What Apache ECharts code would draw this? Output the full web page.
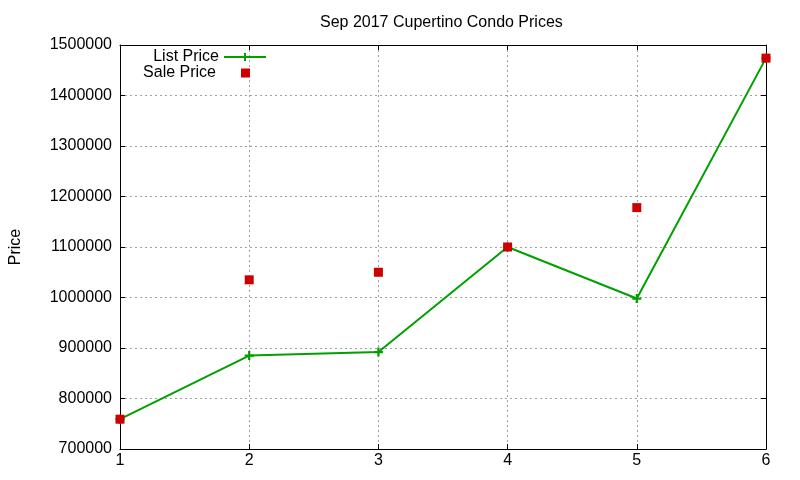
<!DOCTYPE html>
<html>
<head>
<meta charset="utf-8">
<script src="https://cdn.jsdelivr.net/npm/echarts@6/dist/echarts.min.js"></script>
<style>
  html, body { margin: 0; padding: 0; background: #fff; }
  #chart { width: 800px; height: 480px; }
</style>
</head>
<body>
<div id="chart"></div>
<script>
// data
var units = [1, 2, 3, 4, 5, 6];
var listPrice = [759000, 885000, 892000, 1100000, 998000, 1474000];
var salePrice = [759000, 1035000, 1050000, 1100000, 1178000, 1474000];
var yTicks = { min: 700000, max: 1500000, step: 100000 };

var font = 'Liberation Sans, Arial, sans-serif';
var green = '#00a000';
var red = '#cc0000';
// '+' marker like gnuplot
var plusMark = 'path://M3,0H5V3H8V5H5V8H3V5H0V3H3Z';

function pairs(xs, ys) {
    return xs.map(function (x, i) { return [x, ys[i]]; });
}

var chart = echarts.init(document.getElementById('chart'));

// axes: bottom/left carry labels, top/right are mirrored tick borders
var xBase = {
    type: 'value', min: 1, max: 6, interval: 1,
    axisLine: { show: true, onZero: false, lineStyle: { color: '#000', width: 1 } },
    axisTick: { show: true, inside: true, length: 5, lineStyle: { color: '#000' } }
};
var yBase = {
    type: 'value', min: yTicks.min, max: yTicks.max, interval: yTicks.step,
    axisLine: { show: true, onZero: false, lineStyle: { color: '#000', width: 1 } },
    axisTick: { show: true, inside: true, length: 5, lineStyle: { color: '#000' } }
};

var option = {
    animation: false,
    backgroundColor: '#fff',
    textStyle: { fontFamily: font },
    title: {
        text: 'Sep 2017 Cupertino Condo Prices',
        left: 315,
        top: 10,
        textStyle: { fontFamily: font, fontSize: 16, fontWeight: 'normal', color: '#000' }
    },
    legend: [
        {
            data: ['List Price'],
            orient: 'vertical',
            align: 'right',
            right: 533,
            top: 49,
            padding: 0,
            itemWidth: 42,
            itemHeight: 10,
            textStyle: { fontFamily: font, fontSize: 16, color: '#000' }
        },
        {
            data: ['Sale Price'],
            orient: 'vertical',
            align: 'right',
            right: 550,
            top: 65,
            padding: 0,
            itemWidth: 9,
            itemHeight: 9,
            textStyle: { fontFamily: font, fontSize: 16, color: '#000', padding: [0, 20, 0, 0] }
        }
    ],
    grid: { left: 114, right: 34, top: 45, bottom: 31 },
    xAxis: [
        Object.assign({}, xBase, {
            position: 'bottom',
            axisLabel: { margin: 4, color: '#000', fontFamily: font, fontSize: 16 },
            splitLine: { show: true, lineStyle: { color: '#a0a0a0', type: [2, 3], width: 1 } }
        }),
        Object.assign({}, xBase, {
            position: 'top',
            axisLabel: { show: false },
            splitLine: { show: false }
        })
    ],
    yAxis: [
        Object.assign({}, yBase, {
            position: 'left',
            name: 'Price',
            nameLocation: 'middle',
            nameRotate: 90,
            nameGap: 96,
            nameTextStyle: { fontFamily: font, fontSize: 16, color: '#000' },
            axisLabel: {
                margin: 8, color: '#000', fontFamily: font, fontSize: 16,
                formatter: function (v) { return String(v); }
            },
            splitLine: { show: true, lineStyle: { color: '#a0a0a0', type: [2, 3], width: 1 } }
        }),
        Object.assign({}, yBase, {
            position: 'right',
            axisLabel: { show: false },
            splitLine: { show: false }
        })
    ],
    series: [
        {
            name: 'List Price',
            type: 'line',
            data: pairs(units, listPrice),
            symbol: plusMark,
            symbolSize: 9,
            showAllSymbol: true,
            lineStyle: { color: green, width: 2 },
            itemStyle: { color: green },
            clip: false
        },
        {
            name: 'Sale Price',
            type: 'scatter',
            data: pairs(units, salePrice),
            symbol: 'rect',
            symbolSize: 9,
            itemStyle: { color: red, opacity: 1 },
            clip: false,
            z: 3
        }
    ]
};

chart.setOption(option);
</script>
</body>
</html>
